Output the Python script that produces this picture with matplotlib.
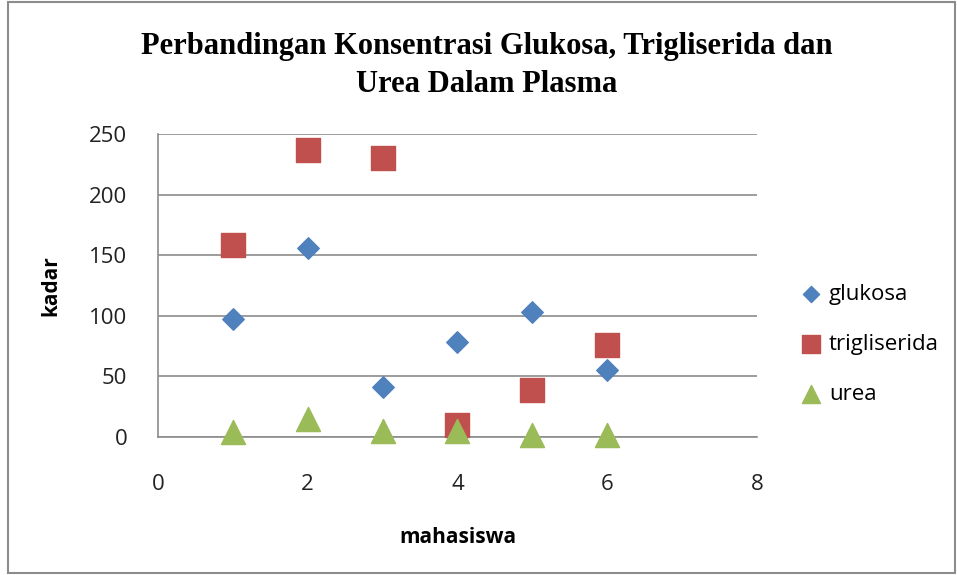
import matplotlib.pyplot as plt
from matplotlib.patches import Rectangle

# data
mahasiswa = [1, 2, 3, 4, 5, 6]
glukosa = [97, 156, 41, 78, 103, 55]
trigliserida = [158, 237, 230, 10, 39, 76]
urea = [4, 15, 5, 5, 2, 2]

fig = plt.figure(figsize=(9.57, 5.75), dpi=100)
ax = fig.add_axes([0.165, 0.24, 0.626, 0.527])

ax.scatter(mahasiswa, glukosa, marker="D", s=120, color="#4F81BD", label="glukosa", zorder=3, clip_on=False)
ax.scatter(mahasiswa, trigliserida, marker="s", s=280, color="#C0504D", label="trigliserida", zorder=3, clip_on=False)
ax.scatter(mahasiswa, urea, marker="^", s=300, color="#9BBB59", label="urea", zorder=4, clip_on=False)

ax.set_xlim(0, 8)
ax.set_ylim(0, 250)
ax.set_xticks([0, 2, 4, 6, 8])
ax.set_yticks([0, 50, 100, 150, 200, 250])
ax.grid(axis="y", color="#8c8c8c", linewidth=1.2)
ax.set_axisbelow(True)
for side in ["top", "right"]:
    ax.spines[side].set_visible(False)
for side in ["left", "bottom"]:
    ax.spines[side].set_color("#8c8c8c")
    ax.spines[side].set_linewidth(1.2)
ax.tick_params(length=0, labelsize=16, colors="#222222")
for lbl in ax.get_xticklabels() + ax.get_yticklabels():
    lbl.set_fontfamily("Open Sans")
ax.tick_params(axis="x", pad=27)
ax.tick_params(axis="y", pad=22)

ax.set_xlabel("mahasiswa", fontsize=15, fontweight="bold", family="Open Sans", labelpad=23)
ax.set_ylabel("kadar", fontsize=15, fontweight="bold", family="Open Sans", labelpad=20)

fig.text(0.509, 0.886, "Perbandingan Konsentrasi Glukosa, Trigliserida dan\nUrea Dalam Plasma",
         ha="center", va="center", fontsize=22, fontweight="bold",
         family="Liberation Serif", linespacing=1.45)

leg = ax.legend(loc="center left", bbox_to_anchor=(1.02, 0.305), frameon=False,
                prop={"family": "Open Sans", "size": 16}, handletextpad=-0.2,
                labelspacing=1.3, markerscale=0.75)

fig.patches.append(Rectangle((0.008, 0.003), 0.99, 0.993, transform=fig.transFigure,
                             fill=False, edgecolor="#8c8c8c", linewidth=1.5))

fig.savefig("out.png", dpi=100)
